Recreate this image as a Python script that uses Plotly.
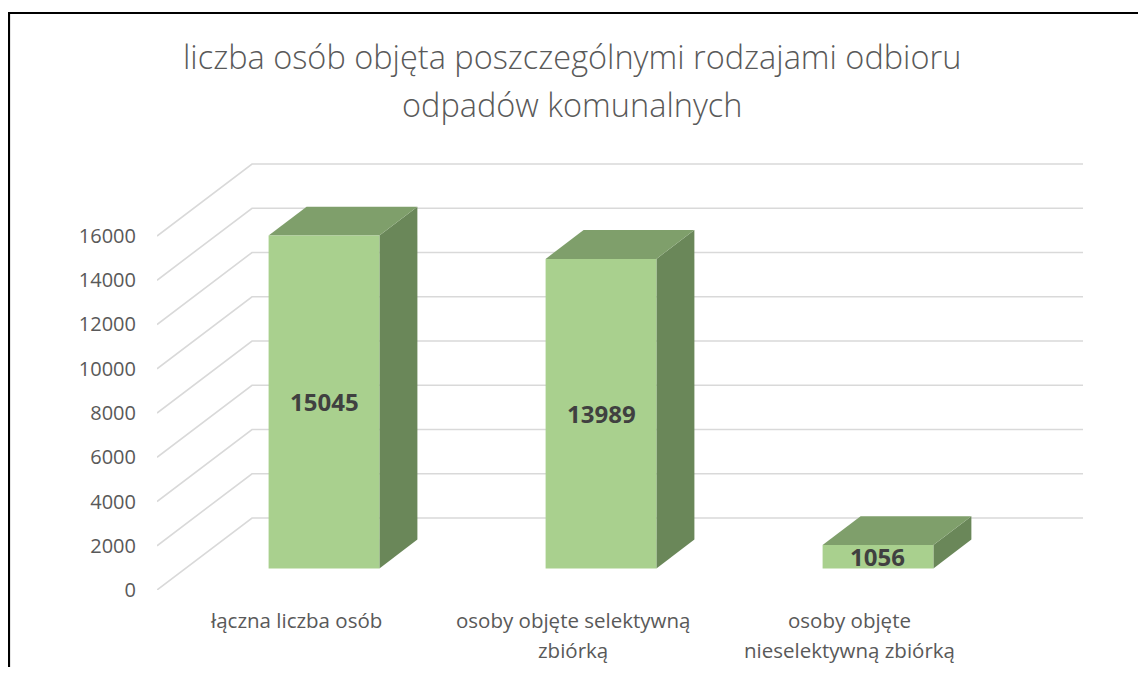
import plotly.graph_objects as go

# ---- data ----
categories = ["łączna liczba osób", "osoby objęte selektywną zbiórką", "osoby objęte nieselektywną zbiórką"]
category_lines = [["łączna liczba osób"], ["osoby objęte selektywną", "zbiórką"], ["osoby objęte", "nieselektywną zbiórką"]]
values = [15045, 13989, 1056]
y_ticks = [0, 2000, 4000, 6000, 8000, 10000, 12000, 14000, 16000]
title_lines = ["liczba osób objęta poszczególnymi rodzajami odbioru", "odpadów komunalnych"]

# ---- pseudo-3D geometry (in axis units) ----
DX = 0.343      # depth offset along x (category units)
DY = 3254       # depth offset along y (value units)
D0, D1 = 0.3, 0.7   # bar depth start / end fractions
W = 0.40        # bar width

FRONT = "#A9D08E"
TOP = "#7F9F6B"
SIDE = "#6A8759"
GRID = "#D9D9D9"
TXT = "#595959"
FONT = "Open Sans"

fig = go.Figure()

# back wall + left wall gridlines
x_left, x_right = -0.5, len(categories) - 0.5
for v in y_ticks:
    fig.add_trace(go.Scatter(
        x=[x_left, x_left + DX, x_right + DX],
        y=[v, v + DY, v + DY],
        mode="lines", line=dict(color=GRID, width=1.6),
        hoverinfo="skip", showlegend=False))

# bars
for i, v in enumerate(values):
    xl = i - W / 2 + D0 * DX
    xr = i + W / 2 + D0 * DX
    yb = D0 * DY
    yt = v + D0 * DY
    ddx = (D1 - D0) * DX
    ddy = (D1 - D0) * DY
    # side face
    fig.add_trace(go.Scatter(
        x=[xr, xr, xr + ddx, xr + ddx, xr],
        y=[yb, yt, yt + ddy, yb + ddy, yb],
        fill="toself", fillcolor=SIDE, mode="lines", line=dict(width=0, color=SIDE),
        hoverinfo="skip", showlegend=False))
    # top face
    fig.add_trace(go.Scatter(
        x=[xl, xr, xr + ddx, xl + ddx, xl],
        y=[yt, yt, yt + ddy, yt + ddy, yt],
        fill="toself", fillcolor=TOP, mode="lines", line=dict(width=0, color=TOP),
        hoverinfo="skip", showlegend=False))
    # front face
    fig.add_trace(go.Scatter(
        x=[xl, xr, xr, xl, xl],
        y=[yb, yb, yt, yt, yb],
        fill="toself", fillcolor=FRONT, mode="lines", line=dict(width=0, color=FRONT),
        hoverinfo="skip", showlegend=False))
    # data label
    fig.add_annotation(x=i + D0 * DX, y=yb + v / 2, xref="x", yref="y",
                       text="<b>%d</b>" % v, showarrow=False,
                       font=dict(family=FONT, size=24, color="#404040"),
                       xanchor="center", yanchor="middle")

# category labels
for i, lines in enumerate(category_lines):
    for j, line in enumerate(lines):
        fig.add_annotation(x=i, y=-0.0703 - j * 0.0703, xref="x", yref="paper",
                           text=line, showarrow=False,
                           font=dict(family=FONT, size=20.5, color=TXT),
                           xanchor="center", yanchor="middle")

# title
for j, line in enumerate(title_lines):
    fig.add_annotation(x=0.448, y=[1.250, 1.138][j], xref="paper", yref="paper",
                       text=line, showarrow=False,
                       font=dict(family=FONT, size=32.5, color=TXT, weight=300),
                       xanchor="center", yanchor="middle")

# outer border
fig.add_shape(type="rect", xref="paper", yref="paper",
              x0=(9 - 157) / 926, x1=(1150 - 157) / 926,
              y0=(590 - 700) / 427, y1=(590 - 13) / 427,
              line=dict(color="black", width=2.2), fillcolor="rgba(0,0,0,0)", layer="above")

fig.update_layout(
    width=1130, height=659,
    margin=dict(l=149, r=55, t=155, b=77),
    paper_bgcolor="white", plot_bgcolor="white",
    showlegend=False,
    xaxis=dict(range=[-0.5, 2.843], showgrid=False, zeroline=False, showline=False,
               showticklabels=False, ticks="", fixedrange=True),
    yaxis=dict(range=[0, 19299], tickvals=y_ticks, ticktext=[str(t) for t in y_ticks],
               showgrid=False, zeroline=False, showline=False, ticks="",
               ticklabelstandoff=20,
               tickfont=dict(family=FONT, size=20, color=TXT), fixedrange=True),
)

fig.write_html("out.html")
